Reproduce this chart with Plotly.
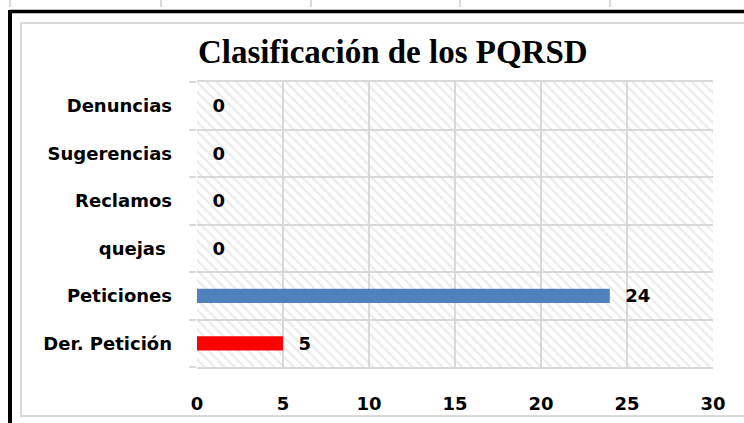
import plotly.graph_objects as go

categories = ["Der. Petición", "Peticiones", "quejas ", "Reclamos", "Sugerencias", "Denuncias"]
values = [5, 24, 0, 0, 0, 0]
bar_colors = ["#FF0000", "#4F81BD", "#4F81BD", "#4F81BD", "#4F81BD", "#4F81BD"]
x_ticks = [0, 5, 10, 15, 20, 25, 30]
title_text = "Clasificación de los PQRSD"

W, H = 744, 423
L, R, T, B = 197, 713, 82, 367

def px(x):
    return (x - L) / (R - L)

def py(y):
    return (B - y) / (B - T)

fig = go.Figure()

# hatched plot-area background (decorative) on the base axes
fig.add_trace(go.Bar(
    x=[1], y=[0.5], width=[1], orientation="h",
    xaxis="x", yaxis="y",
    marker=dict(color="rgba(0,0,0,0)", line=dict(width=0),
                pattern=dict(shape="\\", fgcolor="#D4D4D4", bgcolor="rgba(255,255,255,0)",
                             size=7, solidity=0.3)),
    hoverinfo="skip", showlegend=False,
))

labfont = dict(family="DejaVu Sans", size=18, color="#000000", weight="bold")

fig.add_trace(go.Bar(
    x=values, y=categories, orientation="h",
    xaxis="x2", yaxis="y2",
    marker=dict(color=bar_colors, line=dict(width=0)),
    width=0.3,
    text=["  " + str(v) for v in values],
    textposition="outside",
    constraintext="none",
    cliponaxis=False,
    textfont=labfont,
    outsidetextfont=labfont,
    showlegend=False,
))

shapes = [
    dict(type="line", xref="paper", yref="paper", x0=px(10), x1=px(744), y0=py(11.5), y1=py(11.5),
         line=dict(color="#000000", width=3.5)),
    dict(type="line", xref="paper", yref="paper", x0=px(10), x1=px(10), y0=py(10), y1=py(423),
         line=dict(color="#000000", width=4)),
    dict(type="rect", xref="paper", yref="paper", x0=px(21), x1=px(760), y0=py(23), y1=py(416),
         line=dict(color="#D9D9D9", width=2)),
]
for tx in [10, 161, 311, 460, 610]:
    shapes.append(dict(type="line", xref="paper", yref="paper", x0=px(tx), x1=px(tx),
                       y0=py(0), y1=py(7), line=dict(color="#CCCCCC", width=1.5)))

fig.update_layout(
    width=W, height=H,
    margin=dict(l=L, r=W - R, t=T, b=H - B, autoexpand=False),
    paper_bgcolor="#FFFFFF", plot_bgcolor="#FFFFFF",
    xaxis=dict(range=[0, 1], visible=False, fixedrange=True, automargin=False),
    yaxis=dict(range=[0, 1], visible=False, fixedrange=True, automargin=False),
    xaxis2=dict(overlaying="x", range=[0, 30], tickvals=x_ticks, showgrid=True,
                gridcolor="#D9D9D9", gridwidth=2, zeroline=False,
                showline=True, mirror=True, linecolor="#D9D9D9", linewidth=2, ticks="",
                tickfont=labfont, ticklabelstandoff=19, automargin=False, side="bottom",
                fixedrange=True),
    yaxis2=dict(overlaying="y", type="category", categoryorder="array", categoryarray=categories,
                tickson="boundaries", showgrid=True, gridcolor="#D9D9D9", gridwidth=2,
                ticks="outside", ticklen=7, tickcolor="#D9D9D9", tickwidth=2,
                showline=False, zeroline=False, tickfont=labfont,
                ticklabelstandoff=24, automargin=False, side="left", fixedrange=True),
    shapes=shapes,
    annotations=[dict(text="<b>" + title_text + "</b>", xref="paper", yref="paper",
                      x=px(393), y=py(52), xanchor="center", yanchor="middle", showarrow=False,
                      font=dict(family="Liberation Serif", size=33, color="#000000"))],
)

fig.write_html("out.html", config={"displayModeBar": False},
               post_script="document.body.style.margin='0px';")
